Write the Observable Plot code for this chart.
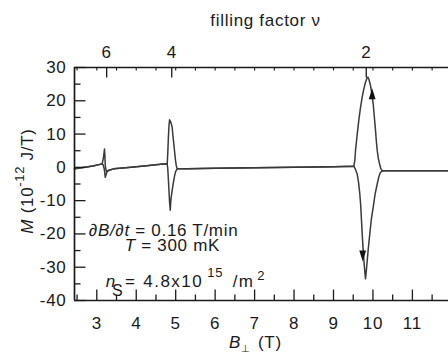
<!DOCTYPE html>
<html><head><meta charset="utf-8">
<script src="https://cdn.jsdelivr.net/npm/d3@7"></script>
<script src="https://cdn.jsdelivr.net/npm/@observablehq/plot@0.6"></script>
<style>
html,body{margin:0;padding:0;background:#fff;}
#chart svg{display:block;}
</style></head><body><div id="chart"></div>
<script>
// ---- data ----
const upB = [2.435,2.7,2.9,3.137, 3.17,3.195,3.205,3.215,3.24,3.28,3.35,
  3.43,3.8,4.2,4.5,4.74,4.785,
  4.8,4.815,4.83,4.845,4.87,4.895,4.911,4.93,4.952,4.975,4.995,5.015,5.038,
  5.3,6,7,8,9,9.515,
  9.54,9.558,9.6,9.641,9.685,9.727,9.77,9.811,9.845,9.87,9.9,9.938,9.97,10.006,10.035,10.065,10.085,10.108,10.135,10.166,10.2,10.234,
  10.5,11,11.5,11.915];
const upM = [-0.45,0.0,0.4,1.05, 3.0,5.5,3.5,0.5,-1.2,-1.1,-0.7,
  -0.45,-0.05,0.4,0.75,1.05,1.0,
  4.5,9.0,12.5,14.3,13.8,12.8,12.0,9.5,7.1,4.4,2.1,0.5,-0.4,
  -0.4,-0.3,-0.1,0.05,0.2,0.3,
  2.0,5.1,9.8,14.1,18.0,21.1,23.6,25.6,26.7,27.1,26.4,24.6,22.2,19.1,15.2,11.1,8.0,5.1,2.8,1.1,-0.4,-1.0,
  -1.0,-1.0,-1.0,-1.0];
const downB = [2.435,2.7,2.9,3.137, 3.16,3.19,3.215,3.235,3.27,3.35,
  3.43,3.8,4.2,4.5,4.74,4.785,
  4.8,4.825,4.845,4.862,4.88,4.91,4.937,4.97,5.0,5.038,
  5.3,6,7,8,9,9.515,
  9.55,9.6,9.635,9.667,9.69,9.71,9.73,9.753,9.78,9.811,9.833,9.855,9.885,9.92,9.96,10.006,10.055,10.108,10.15,10.19,10.26,
  10.5,11,11.5,11.915];
const downM = [-0.45,0.0,0.4,1.05, 0.8,-0.5,-3.0,-2.2,-1.0,-0.7,
  -0.45,-0.05,0.4,0.75,1.05,1.0,
  -0.5,-6,-10.5,-12.9,-9.5,-7,-4.9,-2.6,-1.2,-0.45,
  -0.4,-0.3,-0.1,0.05,0.2,0.3,
  -0.4,-2,-4.5,-8,-11.5,-16,-20.5,-25,-29.5,-33.5,-31,-28,-24,-20,-15.5,-12,-8,-5,-2.8,-1.5,-1.0,
  -1.0,-1.0,-1.0,-1.0];
const xDomain = [2.435, 11.915];
const yDomain = [-40, 30];
const xMajorTicks = [3,4,5,6,7,8,9,10,11];
const xMinorTicks = [2.5,3.5,4.5,5.5,6.5,7.5,8.5,9.5,10.5,11.5];
const topMinorTicks = [2.5,3,3.5,4,4.5,5,5.5,6,6.5,7,7.5,8,8.5,9,9.5,10,10.5,11,11.5];
const yMajorTicks = [-40,-30,-20,-10,0,10,20,30];
const yMinorTicks = [-35,-25,-15,-5,5,15,25];
const nuTicks = [6,4,2];
const nuPositions = [3.25,4.9,9.83];
const arrowB = [9.98, 9.74];
const arrowM = [22, -26.5];
const arrowRotate = [0, 180];

const rows = [
  ...upB.map((b,i)=>({B:b, M:upM[i], sweep:"up"})),
  ...downB.map((b,i)=>({B:b, M:downM[i], sweep:"down"}))
];
const arrows = arrowB.map((b,i)=>({B:b, M:arrowM[i], rot:arrowRotate[i]}));

const ink = "#1a1a1a";
const seg = (dx, dy) => ({draw(ctx){ ctx.moveTo(0,0); ctx.lineTo(dx,dy); }});
const headSym = {draw(ctx){ ctx.moveTo(0,-6); ctx.lineTo(3.4,5); ctx.lineTo(-3.4,5); ctx.closePath(); }};

const plot = Plot.plot({
  width: 448, height: 353,
  marginLeft: 74, marginRight: 0, marginTop: 67, marginBottom: 53,
  x: {domain: xDomain, axis: null},
  y: {domain: yDomain, axis: null},
  style: {fontFamily: "'Liberation Sans', Arial, sans-serif", fontSize: "17px", color: ink, background: "#fff", letterSpacing: "0.7px", overflow: "visible"},
  marks: [
    Plot.line(rows, {x:"B", y:"M", z:"sweep", stroke:"#3a3a3a", strokeWidth:1.5}),
    Plot.dot(arrows, {x:"B", y:"M", symbol: headSym, rotate:"rot", fill:"#111", stroke:"none", r:4}),
    // frame lines
    Plot.ruleX([xDomain[0]], {stroke: ink, strokeWidth: 1.7}),
    Plot.ruleY([yDomain[0], yDomain[1]], {stroke: ink, strokeWidth: 1.7}),
    // inward ticks
    Plot.dot(yMajorTicks, {x: xDomain[0], y: d=>d, symbol: seg(11,0), stroke: ink, fill:"none", strokeWidth:1.3}),
    Plot.dot(yMinorTicks, {x: xDomain[0], y: d=>d, symbol: seg(6,0), stroke: ink, fill:"none", strokeWidth:1.3}),
    Plot.dot(xMajorTicks, {x: d=>d, y: yDomain[0], symbol: seg(0,-11), stroke: ink, fill:"none", strokeWidth:1.3}),
    Plot.dot(xMinorTicks, {x: d=>d, y: yDomain[0], symbol: seg(0,-6), stroke: ink, fill:"none", strokeWidth:1.3}),
    Plot.dot(topMinorTicks, {x: d=>d, y: yDomain[1], symbol: seg(0,3), stroke: ink, fill:"none", strokeWidth:1.1}),
    Plot.dot(nuPositions, {x: d=>d, y: yDomain[1], symbol: seg(0,10), stroke: ink, fill:"none", strokeWidth:1.3}),
    // tick labels
    Plot.text(yMajorTicks, {y: d=>d, frameAnchor:"left", dx:-8, textAnchor:"end", text: d=>String(d), fill: ink}),
    Plot.text(xMajorTicks, {x: d=>d, frameAnchor:"bottom", dy:16, lineAnchor:"top", text: d=>String(d), fill: ink}),
    Plot.text(nuPositions, {x: d=>d, frameAnchor:"top", dy:-10, lineAnchor:"bottom", text: (d,i)=>String(nuTicks[i]), fill: ink}),
    Plot.text(["filling factor \u03BD"], {frameAnchor:"top", dx:4, dy:-41.5, lineAnchor:"bottom", text: d=>d, fill: ink})
  ]
});
document.getElementById("chart").appendChild(plot);

// rich-text labels (italics, sub/superscripts)
const svg = d3.select(plot);
const xs = plot.scale("x"), ys = plot.scale("y");
const g = svg.append("g").attr("fill", ink).attr("text-anchor", "start");

// y-axis label
const yl = g.append("text").attr("transform", "translate(33,181) rotate(-90)").attr("text-anchor","middle");
yl.append("tspan").attr("font-style","italic").text("M");
yl.append("tspan").text(" (10");
yl.append("tspan").attr("font-size",13).attr("dy",-9.5).text("-12");
yl.append("tspan").attr("dy",9.5).text(" J/T)");

// x-axis label
const xl = g.append("text").attr("x", 229).attr("y", 348);
xl.append("tspan").attr("font-style","italic").text("B");
xl.append("tspan").attr("font-size",10).attr("dy",3.5).text("\u22A5");
xl.append("tspan").attr("x",258).attr("dy",-3.5).text("(T)");

// annotation
const a1 = g.append("text").attr("x", xs.apply(2.81)).attr("y", ys.apply(-20.8));
a1.append("tspan").attr("font-style","italic").text("\u2202B/\u2202t");
a1.append("tspan").text(" = 0.16 T/min");
const a2 = g.append("text").attr("x", xs.apply(3.72)).attr("y", ys.apply(-25.2));
a2.append("tspan").attr("font-style","italic").text("T");
a2.append("tspan").text(" = 300 mK");
const a3 = g.append("text").attr("y", ys.apply(-36.1));
a3.append("tspan").attr("x", xs.apply(3.24)).attr("font-style","italic").text("n");
a3.append("tspan").attr("x", xs.apply(3.4)).attr("font-size",16).attr("dy",9).text("S");
a3.append("tspan").attr("x", xs.apply(3.73)).attr("dy",-9).text("=");
a3.append("tspan").attr("x", xs.apply(4.19)).attr("letter-spacing","1.5px").text("4.8x10");
a3.append("tspan").attr("x", xs.apply(5.81)).attr("font-size",13).attr("letter-spacing","1px").attr("dy",-10).text("15");
a3.append("tspan").attr("x", xs.apply(6.46)).attr("letter-spacing","1.2px").attr("dy",10).text("/m");
a3.append("tspan").attr("x", xs.apply(7.08)).attr("font-size",13).attr("dy",-7).text("2");
</script>
</body></html>
